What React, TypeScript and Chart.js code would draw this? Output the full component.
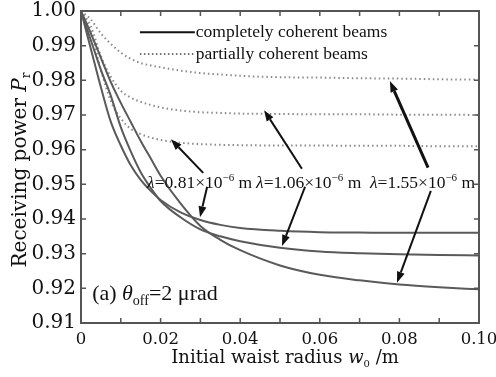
import React, { useEffect, useRef } from 'react';
import { Chart, registerables } from 'chart.js';

Chart.register(...registerables);

// ---- data ----
const waistRadius = [0, 0.0025, 0.005, 0.0075, 0.01, 0.0125, 0.015, 0.0175, 0.02, 0.025, 0.03, 0.035, 0.04, 0.05, 0.06, 0.07, 0.08, 0.09, 0.10];
const coherent081 = [1.0, 0.989, 0.978, 0.968, 0.9612, 0.9555, 0.9513, 0.9481, 0.9455, 0.9419, 0.9397, 0.9383, 0.9374, 0.9366, 0.9362, 0.9361, 0.936, 0.936, 0.936];
const coherent106 = [1.0, 0.9915, 0.983, 0.9755, 0.9665, 0.9595, 0.9535, 0.949, 0.9452, 0.9405, 0.937, 0.935, 0.9336, 0.9317, 0.9306, 0.9301, 0.9298, 0.9296, 0.9295];
const coherent155 = [1.0, 0.9935, 0.9865, 0.9795, 0.9735, 0.968, 0.9625, 0.9575, 0.9525, 0.9445, 0.938, 0.934, 0.931, 0.9266, 0.9239, 0.9223, 0.9211, 0.9203, 0.9197];
const partial081 = [1.0, 0.994, 0.983, 0.974, 0.969, 0.966, 0.9645, 0.9635, 0.9628, 0.962, 0.9616, 0.9614, 0.9613, 0.9612, 0.9612, 0.9611, 0.9611, 0.961, 0.961];
const partial106 = [1.0, 0.9955, 0.987, 0.981, 0.977, 0.975, 0.9738, 0.9729, 0.9722, 0.9713, 0.9708, 0.9706, 0.9704, 0.9703, 0.9702, 0.9702, 0.9701, 0.9701, 0.970];
const partial155 = [1.0, 0.9975, 0.9935, 0.9905, 0.988, 0.9862, 0.985, 0.9843, 0.9838, 0.9828, 0.9821, 0.9817, 0.9813, 0.9809, 0.9808, 0.9806, 0.9805, 0.9803, 0.9802];

const xTickLabels = [0, 0.02, 0.04, 0.06, 0.08, 0.10];
const xMinorTicks = [0, 0.01, 0.02, 0.03, 0.04, 0.05, 0.06, 0.07, 0.08, 0.09, 0.10];
const yTickLabels = [0.91, 0.92, 0.93, 0.94, 0.95, 0.96, 0.97, 0.98, 0.99, 1.0];

const legendLabels = ['completely coherent beams', 'partially coherent beams'];
const wavelengthLabels = ['0.81', '1.06', '1.55'];

// annotation anchors in data coordinates
const labelAnchors = [
  [0.0166, 0.9507],
  [0.0440, 0.9507],
  [0.0726, 0.9507],
];
const arrows = [
  // [x1, y1, x2, y2, width]
  [0.0307, 0.9533, 0.0226, 0.9630, 2],
  [0.0317, 0.9493, 0.0299, 0.9405, 2],
  [0.0555, 0.9545, 0.0460, 0.9714, 2],
  [0.0563, 0.9493, 0.0505, 0.9322, 2],
  [0.0872, 0.9548, 0.0776, 0.9798, 3],
  [0.0879, 0.9481, 0.0794, 0.9216, 2],
];

const SERIF = '"Liberation Serif", "Times New Roman", serif';
const DJ = '"DejaVu Serif", serif';

function drawArrow(ctx: CanvasRenderingContext2D, x1: number, y1: number, x2: number, y2: number, w: number) {
  const ang = Math.atan2(y2 - y1, x2 - x1);
  const hl = 11, hw = 4;
  const bx = x2 - hl * Math.cos(ang), by = y2 - hl * Math.sin(ang);
  ctx.strokeStyle = '#111';
  ctx.fillStyle = '#111';
  ctx.lineWidth = w;
  ctx.beginPath();
  ctx.moveTo(x1, y1);
  ctx.lineTo(bx, by);
  ctx.stroke();
  ctx.beginPath();
  ctx.moveTo(x2, y2);
  ctx.lineTo(bx + hw * Math.sin(ang), by - hw * Math.cos(ang));
  ctx.lineTo(bx - hw * Math.sin(ang), by + hw * Math.cos(ang));
  ctx.closePath();
  ctx.fill();
}

type Part = { t: string; font: string; dy?: number };
function drawParts(ctx: CanvasRenderingContext2D, parts: Part[], x: number, y: number, align: 'left' | 'center') {
  let total = 0;
  for (const p of parts) { ctx.font = p.font; total += ctx.measureText(p.t).width; }
  let cx = align === 'center' ? x - total / 2 : x;
  ctx.textAlign = 'left';
  for (const p of parts) {
    ctx.font = p.font;
    ctx.fillText(p.t, cx, y + (p.dy || 0));
    cx += ctx.measureText(p.t).width;
  }
}

const overlay = {
  id: 'overlay',
  afterDatasetsDraw(chart: any) {
    const { ctx, chartArea: a, scales } = chart;
    const xs = scales.x, ys = scales.y;
    ctx.save();
    // frame
    ctx.strokeStyle = '#555';
    ctx.lineWidth = 2;
    ctx.strokeRect(a.left, a.top, a.right - a.left, a.bottom - a.top);
    // inward ticks
    ctx.lineWidth = 1.5;
    ctx.beginPath();
    for (const v of xMinorTicks) {
      const px = xs.getPixelForValue(v);
      ctx.moveTo(px, a.bottom); ctx.lineTo(px, a.bottom - 5);
      ctx.moveTo(px, a.top); ctx.lineTo(px, a.top + 5);
    }
    for (const v of yTickLabels) {
      const py = ys.getPixelForValue(v);
      ctx.moveTo(a.left, py); ctx.lineTo(a.left + 5, py);
      ctx.moveTo(a.right, py); ctx.lineTo(a.right - 5, py);
    }
    ctx.stroke();

    ctx.fillStyle = '#111';
    ctx.textBaseline = 'alphabetic';
    // legend
    const lgX0 = xs.getPixelForValue(0.0148), lgX1 = xs.getPixelForValue(0.0286);
    const lgY0 = ys.getPixelForValue(0.9939), lgY1 = ys.getPixelForValue(0.9876);
    ctx.strokeStyle = '#111';
    ctx.lineWidth = 2;
    ctx.setLineDash([]);
    ctx.beginPath(); ctx.moveTo(lgX0, lgY0); ctx.lineTo(lgX1, lgY0); ctx.stroke();
    ctx.strokeStyle = '#444';
    ctx.lineWidth = 1.5;
    ctx.setLineDash([1.5, 2.5]);
    ctx.beginPath(); ctx.moveTo(lgX0, lgY1); ctx.lineTo(lgX1, lgY1); ctx.stroke();
    ctx.setLineDash([]);
    ctx.font = `17.5px ${SERIF}`;
    ctx.textAlign = 'left';
    ctx.fillText(legendLabels[0], lgX1 + 1, lgY0 + 5);
    ctx.fillText(legendLabels[1], lgX1 + 1, lgY1 + 5);

    // arrows
    for (const [x1, y1, x2, y2, w] of arrows) {
      drawArrow(ctx, xs.getPixelForValue(x1), ys.getPixelForValue(y1), xs.getPixelForValue(x2), ys.getPixelForValue(y2), w);
    }

    // wavelength labels
    ctx.fillStyle = '#111';
    wavelengthLabels.forEach((lab, i) => {
      const [lx, ly] = labelAnchors[i];
      const px = xs.getPixelForValue(lx), py = ys.getPixelForValue(ly) + 6;
      drawParts(ctx, [
        { t: 'λ', font: `italic 17.5px ${SERIF}` },
        { t: `=${lab}×10`, font: `17.5px ${SERIF}` },
        { t: '−6', font: `11px ${SERIF}`, dy: -7 },
        { t: ' m', font: `17.5px ${SERIF}` },
      ], px, py, 'left');
    });

    // panel label
    drawParts(ctx, [
      { t: '(a) ', font: `22px ${SERIF}` },
      { t: 'θ', font: `italic 22px ${SERIF}` },
      { t: 'off', font: `14px ${SERIF}`, dy: 5 },
      { t: '=2 μrad', font: `22px ${SERIF}` },
    ], xs.getPixelForValue(0.0028), ys.getPixelForValue(0.9166), 'left');

    // x axis title
    const cxm = (a.left + a.right) / 2 + 5;
    drawParts(ctx, [
      { t: 'Initial waist radius ', font: `18px ${DJ}` },
      { t: 'w', font: `italic 18px ${DJ}` },
      { t: '0', font: `10px ${DJ}`, dy: 4 },
      { t: ' /m', font: `18px ${DJ}` },
    ], cxm, 363, 'center');

    // y axis title
    ctx.translate(26, (a.top + a.bottom) / 2 + 3);
    ctx.rotate(-Math.PI / 2);
    drawParts(ctx, [
      { t: 'Receiving power ', font: `20px ${DJ}` },
      { t: 'P', font: `italic 20px ${DJ}` },
      { t: 'r', font: `12px ${DJ}`, dy: 4 },
    ], 0, 0, 'center');
    ctx.restore();
  },
};

export default function App() {
  const ref = useRef<HTMLCanvasElement>(null);
  useEffect(() => {
    document.body.style.margin = '0';
    const canvas = ref.current!;
    const mk = (vals: number[]) => waistRadius.map((x, i) => ({ x, y: vals[i] }));
    const solid = { borderColor: '#5a5a5a', borderWidth: 2, pointRadius: 0, fill: false, cubicInterpolationMode: 'monotone' as const };
    const dotted = { borderColor: '#8a8a8a', borderWidth: 2, borderDash: [1.5, 3], pointRadius: 0, fill: false, cubicInterpolationMode: 'monotone' as const };
    const chart = new Chart(canvas, {
      type: 'line',
      data: {
        datasets: [
          { label: 'coherent 0.81', data: mk(coherent081), ...solid },
          { label: 'coherent 1.06', data: mk(coherent106), ...solid },
          { label: 'coherent 1.55', data: mk(coherent155), ...solid },
          { label: 'partial 0.81', data: mk(partial081), ...dotted },
          { label: 'partial 1.06', data: mk(partial106), ...dotted },
          { label: 'partial 1.55', data: mk(partial155), ...dotted },
        ],
      },
      options: {
        responsive: false,
        animation: false,
        devicePixelRatio: 1,
        layout: { padding: { top: 11, right: 17, left: 0, bottom: 0 } },
        plugins: { legend: { display: false }, tooltip: { enabled: false } },
        scales: {
          x: {
            type: 'linear',
            min: 0,
            max: 0.1,
            grid: { display: false, drawTicks: false },
            border: { display: false },
            afterBuildTicks: (s: any) => { s.ticks = xTickLabels.map((v) => ({ value: v })); },
            afterFit: (s: any) => { s.height = 54; s.paddingLeft = 0; s.paddingRight = 0; },
            ticks: {
              autoSkip: false,
              maxRotation: 0,
              padding: 7,
              color: '#111',
              font: { family: 'DejaVu Serif', size: 16.5 },
              callback: (v: any) => (Number(v) === 0 ? '0' : Number(v).toFixed(2)),
            },
          },
          y: {
            type: 'linear',
            min: 0.91,
            max: 1.0,
            grid: { display: false, drawTicks: false },
            border: { display: false },
            afterBuildTicks: (s: any) => { s.ticks = yTickLabels.map((v) => ({ value: v })); },
            afterFit: (s: any) => { s.width = 81; s.paddingTop = 0; s.paddingBottom = 0; },
            ticks: {
              padding: 5,
              color: '#111',
              font: { family: 'DejaVu Serif', size: 20 },
              callback: (v: any) => Number(v).toFixed(2),
            },
          },
        },
      },
      plugins: [overlay],
    });
    return () => chart.destroy();
  }, []);
  return (
    <div style={{ width: 496, height: 377 }}>
      <canvas ref={ref} width={496} height={377} />
    </div>
  );
}
